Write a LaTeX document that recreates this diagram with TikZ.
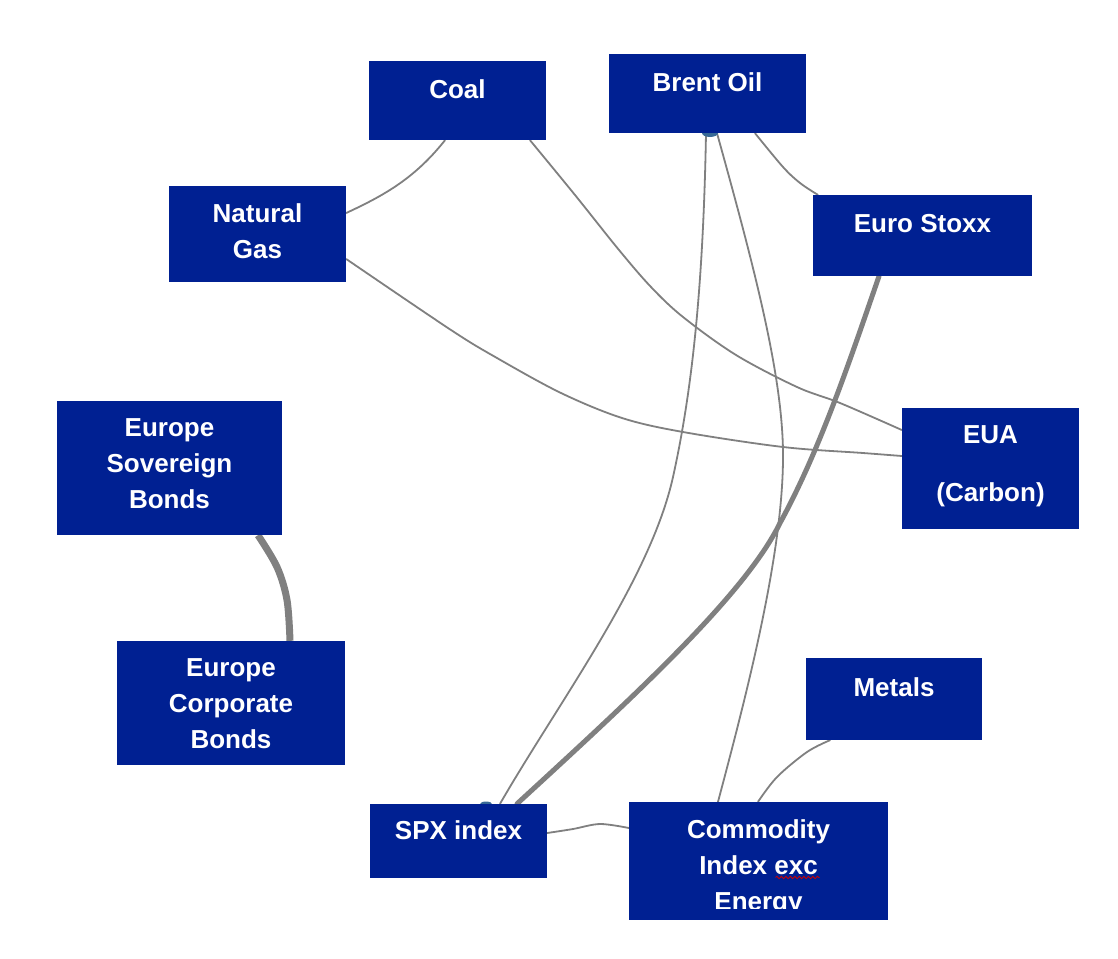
\documentclass[tikz,border=0pt]{standalone}
\usepackage{fontspec}
\setmainfont{Liberation Sans}
\usetikzlibrary{calc,decorations.pathmorphing}
\definecolor{boxblue}{RGB}{0,32,146}
\definecolor{edgegray}{RGB}{128,128,128}
\definecolor{blobteal}{RGB}{55,105,150}
\pgfdeclarelayer{back}
\pgfdeclarelayer{edges}
\pgfsetlayers{back,edges,main}
\tikzset{
  boxnode/.style={rectangle, fill=boxblue, draw=none, inner sep=0pt},
  lbl/.style={text=white, font=\fontsize{26}{36}\selectfont\bfseries, align=center, anchor=north, inner sep=0pt},
  thinedge/.style={draw=edgegray, line width=1.8pt, line cap=round},
  midedge/.style={draw=edgegray, line width=5pt, line cap=round},
  fatedge/.style={draw=edgegray, line width=7pt},
}
\begin{document}
\begin{tikzpicture}[x=1pt,y=-1pt]
\begin{pgfonlayer}{back}
\fill[white] (0,0) rectangle (1118,958);
\end{pgfonlayer}
\useasboundingbox (0,0) rectangle (1118,958);

% small self-loop blobs (partially hidden behind boxes)
\fill[blobteal] (710,133) ellipse [x radius=8, y radius=4];
\fill[blobteal] (486,804) ellipse [x radius=6, y radius=2.5];

% boxes
\node[boxnode, minimum width=177, minimum height=79] (coal) at (457.5,100.5) {};
\node[boxnode, minimum width=197, minimum height=79] (brent) at (707.5,93.5) {};
\node[boxnode, minimum width=177, minimum height=96] (natgas) at (257.5,234) {};
\node[boxnode, minimum width=219, minimum height=81] (stoxx) at (922.5,235.5) {};
\node[boxnode, minimum width=225, minimum height=134] (eusov) at (169.5,468) {};
\node[boxnode, minimum width=177, minimum height=121] (eua) at (990.5,468.5) {};
\node[boxnode, minimum width=228, minimum height=124] (corp) at (231,703) {};
\node[boxnode, minimum width=176, minimum height=82] (metals) at (894,699) {};
\node[boxnode, minimum width=177, minimum height=74] (spx) at (458.5,841) {};
\node[boxnode, minimum width=259, minimum height=118] (comm) at (758.5,861) {};

% labels
\node[lbl] (coalT) at (457.5,79.5) {Coal};
\node[lbl] (brentT) at (707.5,72) {Brent Oil};
\node[lbl] (natgasT) at (257.5,203.5) {Natural\\Gas};
\node[lbl] (stoxxT) at (922.5,214.5) {Euro Stoxx};
\node[lbl] (eusovT) at (169.5,418.5) {Europe\\Sovereign\\Bonds};
\node[lbl] (euaT) at (990.5,425.5) {EUA\\[22pt](Carbon)};
\node[lbl] (corpT) at (231,658.5) {Europe\\Corporate\\Bonds};
\node[lbl] (metalsT) at (894,677.5) {Metals};
\node[lbl] (spxT) at (458.5,820.5) {SPX index};
\begin{scope}
\clip ($(comm.north west)$) rectangle ($(comm.north east)+(0,107)$);
\node[lbl] (commT) at (758.5,819.5) {Commodity\\Index exc\\Energy};
\end{scope}
\draw[red!80!black, line width=0.8pt, decorate, decoration={snake, amplitude=1.2pt, segment length=4.5pt}] ($(commT.north)+(17,58)$) -- ($(commT.north)+(61,58)$);

% connector end points
\coordinate (a1) at ($(coal.south)+(-12.5,0)$);
\coordinate (b1) at ($(natgas.east)+(0,-21)$);
\coordinate (a2) at ($(coal.south)+(72.5,0)$);
\coordinate (b2) at ($(eua.west)+(0,-38.5)$);
\coordinate (a3) at ($(natgas.east)+(0,25)$);
\coordinate (b3) at ($(eua.west)+(0,-12.5)$);
\coordinate (a4) at ($(brent.south)+(-1.5,0)$);
\coordinate (b4) at ($(spx.north)+(41.5,0)$);
\coordinate (a5) at ($(brent.south)+(9.5,0)$);
\coordinate (b5) at ($(comm.north)+(-40.5,0)$);
\coordinate (a6) at ($(brent.south)+(47.5,0)$);
\coordinate (b6) at ($(stoxx.north west)+(5,0)$);
\coordinate (a7) at ($(stoxx.south)+(-43.5,0)$);
\coordinate (b7) at ($(spx.north)+(58.5,0)$);
\coordinate (a8) at ($(metals.south)+(-64,0)$);
\coordinate (b8) at ($(comm.north)+(-0.5,0)$);
\coordinate (a9) at ($(spx.east)+(0,-8)$);
\coordinate (b9) at ($(comm.west)+(0,-33)$);
\coordinate (a10) at ($(eusov.south)+(88.5,0)$);
\coordinate (b10) at ($(corp.north)+(59,0)$);

\begin{pgfonlayer}{edges}
\draw[thinedge] (a1) .. controls (415,178) and (385,195) .. (b1);
\draw[thinedge] plot[smooth, tension=0.55] coordinates {(a2) (575,195) (619,250) (651,287) (683,317) (736,355) (797,387) (840,403) (b2)};
\draw[thinedge] plot[smooth, tension=0.55] coordinates {(a3) (451,330) (497,358) (561,393) (622,418) (683,432) (783,447) (863,453) (b3)};
\draw[thinedge] (a4) .. controls (703,300) and (690,400) .. (673,477) .. controls (650,580) and (560,700) .. (b4);
\draw[thinedge] (a5) .. controls (755,270) and (784,380) .. (783,460) .. controls (782,560) and (745,700) .. (b5);
\draw[thinedge] plot[smooth, tension=0.55] coordinates {(a6) (783,167) (800,183) (b6)};
\draw[midedge] (a7) .. controls (850,360) and (820,450) .. (780,523) .. controls (745,595) and (630,700) .. (b7);
\draw[thinedge] plot[smooth, tension=0.55] coordinates {(a8) (807,752) (777,777) (b8)};
\draw[thinedge] plot[smooth, tension=0.55] coordinates {(a9) (573,829) (600,824) (b9)};
\draw[fatedge] plot[smooth, tension=0.55] coordinates {(a10) (277,567) (287,600) (b10)};
\end{pgfonlayer}
\end{tikzpicture}
\end{document}
